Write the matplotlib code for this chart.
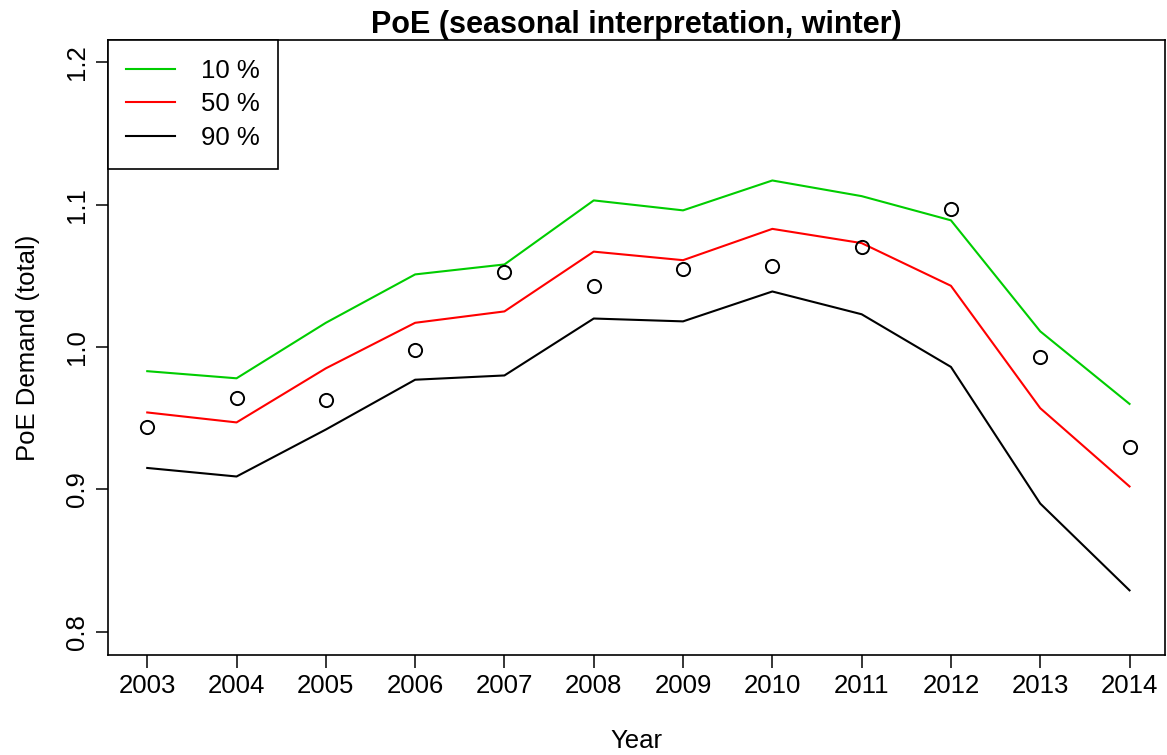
import matplotlib
matplotlib.use("Agg")
import matplotlib.pyplot as plt

plt.rcParams['font.family'] = ['Liberation Sans', 'DejaVu Sans']

years = [2003, 2004, 2005, 2006, 2007, 2008, 2009, 2010, 2011, 2012, 2013, 2014]
poe10 = [0.983, 0.978, 1.017, 1.051, 1.058, 1.103, 1.096, 1.117, 1.106, 1.089, 1.011, 0.960]
poe50 = [0.954, 0.947, 0.985, 1.017, 1.025, 1.067, 1.061, 1.083, 1.073, 1.043, 0.957, 0.902]
poe90 = [0.915, 0.909, 0.942, 0.977, 0.980, 1.020, 1.018, 1.039, 1.023, 0.986, 0.890, 0.829]
observed = [0.944, 0.964, 0.963, 0.998, 1.053, 1.043, 1.055, 1.057, 1.070, 1.097, 0.993, 0.930]
yticks = [0.8, 0.9, 1.0, 1.1, 1.2]

fig = plt.figure(figsize=(11.67, 7.55), dpi=100)
ax = fig.add_axes([0.0925, 0.1325, 0.906, 0.8145])

ax.plot(years, poe10, color='#00CD00', lw=1.5, label='10 %')
ax.plot(years, poe50, color='#FF0000', lw=1.5, label='50 %')
ax.plot(years, poe90, color='black', lw=1.5, label='90 %')
ax.plot(years, observed, 'o', mfc='none', mec='black', mew=1.4, ms=9.5)

ax.set_xlim(2002.56, 2014.40)
ax.set_ylim(0.7836, 1.2157)
ax.set_xticks(years)
ax.set_xticklabels([str(y) for y in years])
ax.set_yticks(yticks)
ax.set_yticklabels(['0.8', '0.9', '1.0', '1.1', '1.2'], rotation=90, va='center')

ax.tick_params(axis='both', direction='out', length=9, width=1.1, labelsize=18.5, pad=5)
for s in ax.spines.values():
    s.set_linewidth(1.2)

ax.set_title('PoE (seasonal interpretation, winter)', fontsize=22, fontweight='bold', pad=5)
ax.set_xlabel('Year', fontsize=18.5, labelpad=22)
ax.set_ylabel('PoE Demand (total)', fontsize=18.5, labelpad=18)

leg = ax.legend(loc='upper left', borderaxespad=0, fancybox=False, framealpha=1,
                edgecolor='black', fontsize=18.5, handlelength=1.9, handletextpad=1.0,
                labelspacing=0.38, borderpad=0.72)
leg.get_frame().set_linewidth(1.2)

fig.savefig('out.png', dpi=100)
